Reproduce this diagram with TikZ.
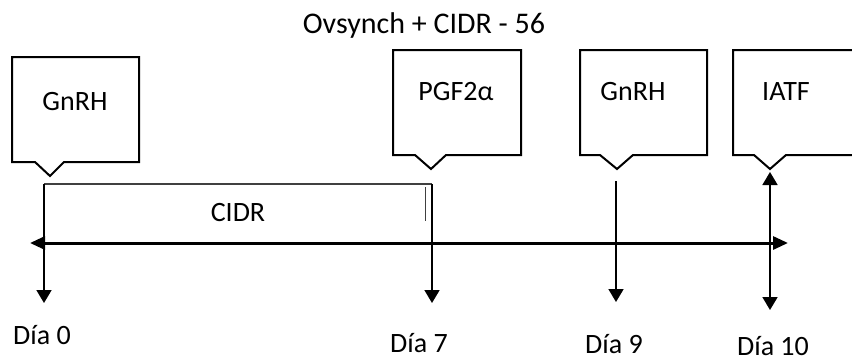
\documentclass[tikz,border=0pt]{standalone}
\usepackage{fontspec}
\setmainfont{Carlito}
\usetikzlibrary{arrows.meta}
\newcommand\callbox[8]{%
  \draw[box] (#2,#4) -- (#3,#4) -- (#3,#5) -- (#7,#5) -- (#8,{#5+14}) -- (#6,#5) -- (#2,#5) -- cycle;
  \coordinate (#1) at (#8,{#5+14});
}
\begin{document}
\begin{tikzpicture}[x=1pt,y=-1pt,
  box/.style={draw=black,line width=2pt,line join=miter},
  lbl/.style={font=\fontsize{28}{32}\selectfont,inner sep=0pt,anchor=base},
  tline/.style={line width=3pt,{Triangle[length=15pt,width=13pt]}-{Triangle[length=15pt,width=13pt]}},
  vt/.style={line width=1.8pt,-{Triangle[length=13pt,width=15pt]}},
  vtt/.style={line width=1.8pt,{Triangle[length=13pt,width=15pt]}-{Triangle[length=13pt,width=15pt]}},
  cidr/.style={draw=black!75,line width=1.2pt}
]
\useasboundingbox (0,0) rectangle (852,362);

% title
\node[lbl,font=\fontsize{30}{34}\selectfont] (title) at (424,33) {Ovsynch + CIDR - 56};

% callout boxes
\callbox{tip0}{12}{139}{57}{162}{35}{64}{50}
\callbox{tip7}{393}{521}{50}{155}{415}{446}{431}
\callbox{tip9}{580}{707}{50}{155}{600}{633}{617}
\callbox{tip10}{733}{870}{50}{155}{754}{786}{770}

\node[lbl] (g0) at (75,110) {GnRH};
\node[lbl] (pgf) at (456,100) {PGF2α};
\node[lbl] (g9) at (633,100) {GnRH};
\node[lbl] (iatf) at (786,100) {IATF};

% CIDR bar
\coordinate (c0) at (44,184);
\coordinate (c7) at (432,184);
\draw[cidr] (c0) -- (c7);
\coordinate (s1) at (425,187);
\coordinate (s2) at (425,221);
\draw[draw=black!75,line width=1pt] (s1) -- (s2);
\node[lbl] (cidrlbl) at (238,221) {CIDR};

% timeline
\coordinate (tl) at (30,243);
\coordinate (tr) at (788,243);
\draw[tline] (tl) -- (tr);

% day arrows
\coordinate (e0) at (44,303);
\coordinate (e7) at (432,303);
\coordinate (b9) at (616,181);
\coordinate (e9) at (616,302);
\coordinate (b10) at (770,172);
\coordinate (e10) at (770,310);
\draw[vt] (c0) -- (e0);
\draw[vt] (c7) -- (e7);
\draw[vt] (b9) -- (e9);
\draw[vtt] (b10) -- (e10);

% day labels
\node[lbl] (d0) at (42,344) {Día 0};
\node[lbl] (d7) at (419,352) {Día 7};
\node[lbl] (d9) at (614,353) {Día 9};
\node[lbl] (d10) at (773,355) {Día 10};
\end{tikzpicture}
\end{document}
